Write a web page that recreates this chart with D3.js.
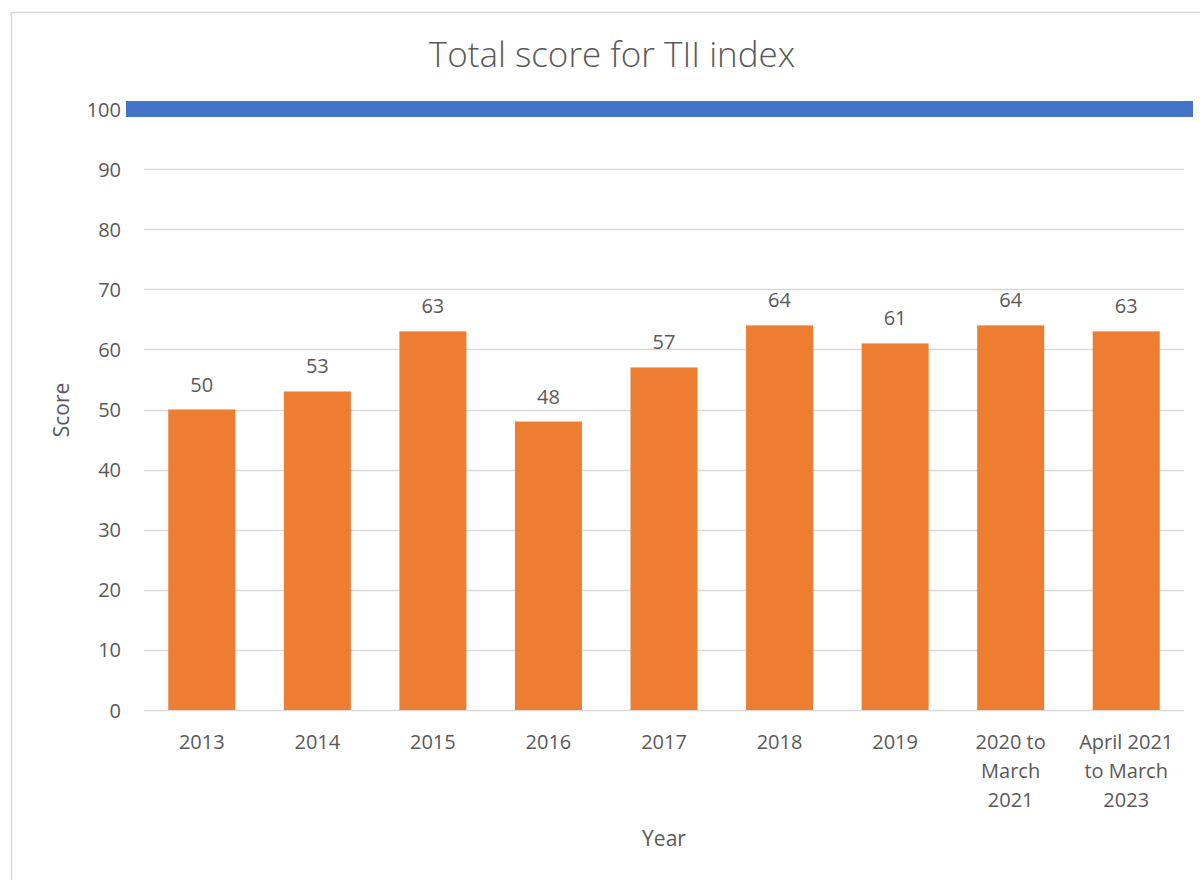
<!DOCTYPE html>
<html><head><meta charset="utf-8">
<script src="https://cdn.jsdelivr.net/npm/d3@7"></script>
<style>body{margin:0;background:#fff}svg{display:block}text{font-family:"Open Sans","Noto Sans",sans-serif;fill:#595959}</style>
</head><body><svg id="c" width="1200" height="880"></svg>
<script>
const categories = [["2013"],["2014"],["2015"],["2016"],["2017"],["2018"],["2019"],["2020 to","March","2021"],["April 2021","to March","2023"]];
const scores = [50,53,63,48,57,64,61,64,63];
const yTicks = [0,10,20,30,40,50,60,70,80,90,100];
const targetValue = 100;
const title = "Total score for TII index";

(function(){
const svg = d3.select("#c");
svg.append("rect").attr("x",11.5).attr("y",12.5).attr("width",1250).attr("height",900)
  .attr("fill","#fff").attr("stroke","#d9d9d9").attr("stroke-width",1.5);

const pL=144, pR=1184, pT=109, pB=710;
const x = d3.scaleBand().domain(categories.map((d,i)=>i)).range([pL,pR]).paddingInner(0.42).paddingOuter(0.21);
const y = d3.scaleLinear().domain([0,100]).range([pB,pT]);

svg.append("text").attr("x",612).attr("y",67).attr("text-anchor","middle").style("font-size","35px").style("font-weight","300").text(title);

svg.append("g").selectAll("line").data(yTicks.filter(t=>t<100)).join("line")
  .attr("x1",pL).attr("x2",pR).attr("y1",d=>Math.round(y(d))+0.5).attr("y2",d=>Math.round(y(d))+0.5)
  .attr("stroke","#d9d9d9").attr("stroke-width",1.5);

const ya = svg.append("g").attr("transform",`translate(${pL-23},0)`)
  .call(d3.axisLeft(y).tickValues(yTicks).tickSize(0).tickPadding(0));
ya.select(".domain").remove();
ya.selectAll("text").style("font-size","20px").attr("fill","#595959").attr("dy","0.35em");

svg.append("g").selectAll("rect").data(scores).join("rect")
  .attr("x",(d,i)=>x(i)).attr("width",x.bandwidth())
  .attr("y",d=>y(d)).attr("height",d=>y(0)-y(d)).attr("fill","#ed7d31");

svg.append("g").selectAll("text").data(scores).join("text")
  .attr("x",(d,i)=>x(i)+x.bandwidth()/2).attr("y",d=>y(d)-18)
  .attr("text-anchor","middle").style("font-size","20px").text(d=>d);

svg.append("line").attr("x1",126).attr("x2",1193).attr("y1",y(targetValue)).attr("y2",y(targetValue))
  .attr("stroke","#4472c4").attr("stroke-width",16);

const xl = svg.append("g").selectAll("text").data(categories).join("text")
  .attr("x",(d,i)=>x(i)+x.bandwidth()/2).attr("y",749).attr("text-anchor","middle").style("font-size","20px");
xl.each(function(lines,i){
  const t=d3.select(this);
  lines.forEach((l,j)=>t.append("tspan").attr("x",x(i)+x.bandwidth()/2).attr("dy",j?29:0).text(l));
});

svg.append("text").attr("x",664).attr("y",846).attr("text-anchor","middle").style("font-size","21px").text("Year");
svg.append("text").attr("transform","translate(69,410) rotate(-90)").attr("text-anchor","middle").style("font-size","21px").text("Score");
})();
</script></body></html>
